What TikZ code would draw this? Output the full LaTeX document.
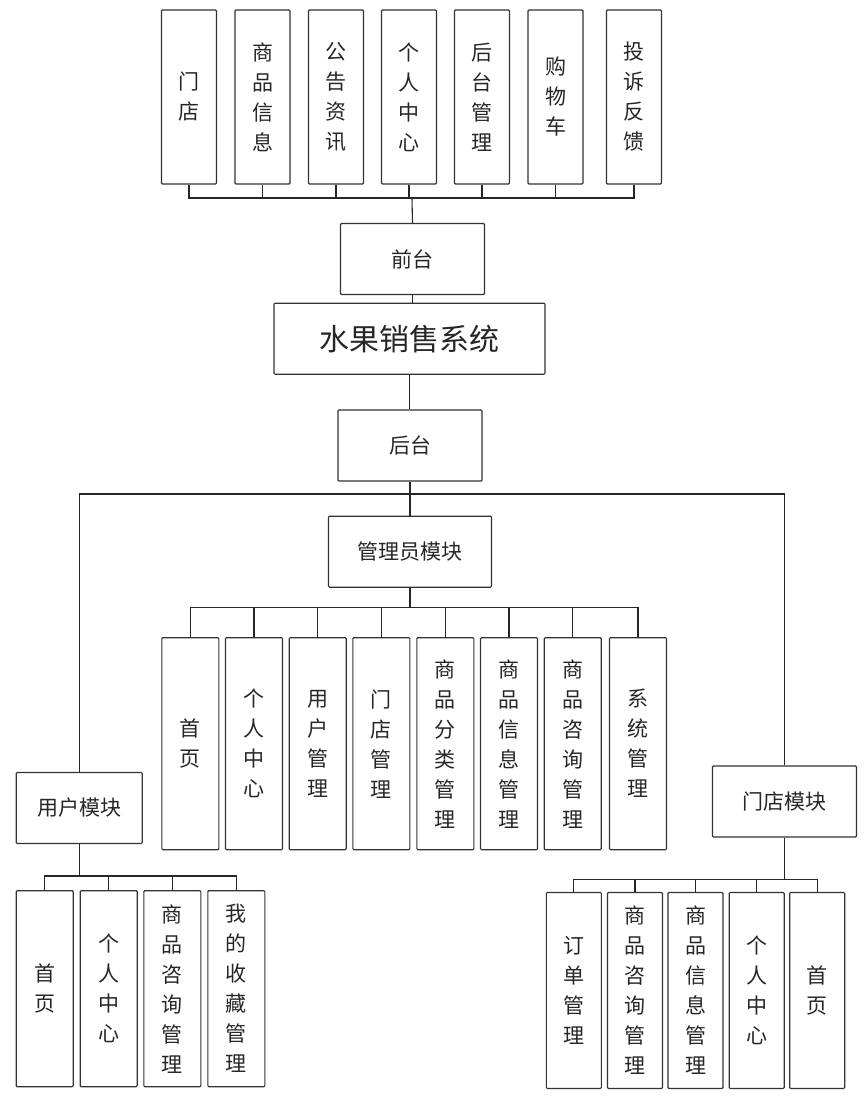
\documentclass[tikz,border=0pt]{standalone}
\usepackage{fontspec}
\newfontfamily\cjk{Noto Sans CJK SC}
\begin{document}
\begin{tikzpicture}[x=1pt,y=-1pt,
  line width=1.1pt,
  box/.style={draw=black!80,rounded corners=1pt,inner sep=0pt,align=center,text=black!85,font=\cjk\fontsize{21}{30}\selectfont},
  wide/.style={box,minimum width=144pt,minimum height=71pt},
  col/.style={box,minimum width=55pt,minimum height=174pt},
  adm/.style={box,minimum width=57pt,minimum height=212pt},
  sub/.style={box,minimum width=57pt,minimum height=196pt},
  link/.style={draw=black!85}]
  \useasboundingbox (0,0) rectangle (865,1096);

% front end
  \node[col] (f1) at (189,97) {门\\店};
  \node[col] (f2) at (262.5,97) {商\\品\\信\\息};
  \node[col] (f3) at (336,97) {公\\告\\资\\讯};
  \node[col] (f4) at (409,97) {个\\人\\中\\心};
  \node[col] (f5) at (482,97) {后\\台\\管\\理};
  \node[col] (f6) at (555.5,97) {购\\物\\车};
  \node[col] (f7) at (634,97) {投\\诉\\反\\馈};
  \node[wide] (qiantai) at (412.5,259) {前台};
  \node[box,minimum width=271pt,minimum height=71pt,font=\cjk\fontsize{30}{36}\selectfont] (sys) at (409.5,338.7) {水果销售系统};
  \node[wide] (houtai) at (410,445.5) {后台};

  \coordinate (qbus) at (412,198);
  \draw[link] (qiantai.north) -- (qbus);
  \draw[link] (f1.south) -- (f1.south |- qbus) -- (f7.south |- qbus) -- (f7.south);
  \draw[link] (f2.south) -- (f2.south |- qbus);
  \draw[link] (f3.south) -- (f3.south |- qbus);
  \draw[link] (f4.south) -- (f4.south |- qbus);
  \draw[link] (f5.south) -- (f5.south |- qbus);
  \draw[link] (f6.south) -- (f6.south |- qbus);
  \draw[link] (qiantai.south) -- (qiantai.south |- sys.north);
  \draw[link] (sys.south) -- (sys.south |- houtai.north);

% back end modules
  \node[box,minimum width=163pt,minimum height=71pt] (admin) at (410,551.7) {管理员模块};
  \node[box,minimum width=126pt,minimum height=71pt] (user) at (79.2,808) {用户模块};
  \node[wide] (store) at (784.5,801.5) {门店模块};

  \coordinate (hbus) at (410,494);
  \draw[link] (houtai.south) -- (admin.north);
  \draw[link] (user.north) -- (user.north |- hbus) -- (store.north |- hbus) -- (store.north);

% admin
  \node[adm] (a1) at (190.3,743.7) {首\\页};
  \node[adm] (a2) at (254,743.7) {个\\人\\中\\心};
  \node[adm] (a3) at (317.7,743.7) {用\\户\\管\\理};
  \node[adm] (a4) at (381.3,743.7) {门\\店\\管\\理};
  \node[adm] (a5) at (445.3,743.7) {商\\品\\分\\类\\管\\理};
  \node[adm] (a6) at (509,743.7) {商\\品\\信\\息\\管\\理};
  \node[adm] (a7) at (572.7,743.7) {商\\品\\咨\\询\\管\\理};
  \node[adm] (a8) at (638,743.7) {系\\统\\管\\理};

  \coordinate (abus) at (410,607.3);
  \draw[link] (admin.south) -- (abus);
  \draw[link] (a1.north) -- (a1.north |- abus) -- (a8.north |- abus) -- (a8.north);
  \draw[link] (a2.north) -- (a2.north |- abus);
  \draw[link] (a3.north) -- (a3.north |- abus);
  \draw[link] (a4.north) -- (a4.north |- abus);
  \draw[link] (a5.north) -- (a5.north |- abus);
  \draw[link] (a6.north) -- (a6.north |- abus);
  \draw[link] (a7.north) -- (a7.north |- abus);

% user
  \node[sub] (u1) at (44.7,988.7) {首\\页};
  \node[sub] (u2) at (108.7,988.7) {个\\人\\中\\心};
  \node[sub] (u3) at (172.3,988.7) {商\\品\\咨\\询\\管\\理};
  \node[sub] (u4) at (236.3,988.7) {我\\的\\收\\藏\\管\\理};

  \coordinate (ubus) at (79.2,876);
  \draw[link] (user.south) -- (ubus);
  \draw[link] (u1.north) -- (u1.north |- ubus) -- (u4.north |- ubus) -- (u4.north);
  \draw[link] (u2.north) -- (u2.north |- ubus);
  \draw[link] (u3.north) -- (u3.north |- ubus);

% store
  \node[sub,minimum width=55pt] (s1) at (573.8,990.5) {订\\单\\管\\理};
  \node[sub,minimum width=55pt] (s2) at (635,990.5) {商\\品\\咨\\询\\管\\理};
  \node[sub,minimum width=55pt] (s3) at (695.5,990.5) {商\\品\\信\\息\\管\\理};
  \node[sub,minimum width=55pt] (s4) at (756.7,990.5) {个\\人\\中\\心};
  \node[sub,minimum width=55pt] (s5) at (817.2,990.5) {首\\页};

  \coordinate (sbus) at (784.5,879.3);
  \draw[link] (store.south) -- (sbus);
  \draw[link] (s1.north) -- (s1.north |- sbus) -- (s5.north |- sbus) -- (s5.north);
  \draw[link] (s2.north) -- (s2.north |- sbus);
  \draw[link] (s3.north) -- (s3.north |- sbus);
  \draw[link] (s4.north) -- (s4.north |- sbus);
\end{tikzpicture}
\end{document}
